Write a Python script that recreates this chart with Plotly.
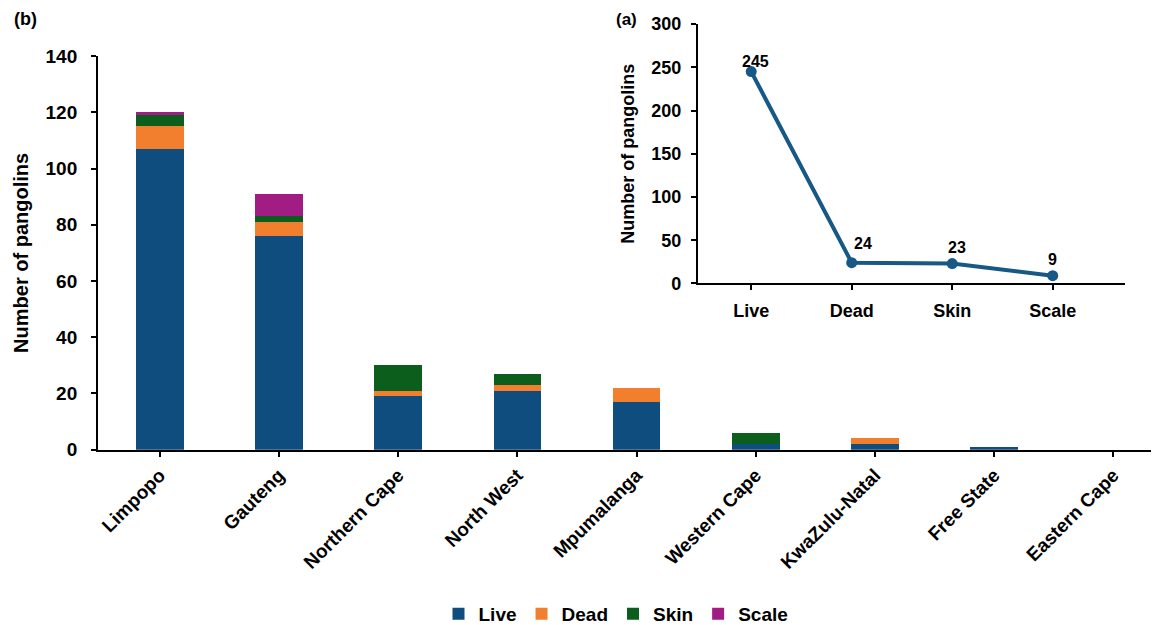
import plotly.graph_objects as go

provinces = ["Limpopo", "Gauteng", "Northern Cape", "North West", "Mpumalanga",
             "Western Cape", "KwaZulu-Natal", "Free State", "Eastern Cape"]
live = [107, 76, 19, 21, 17, 2, 2, 1, 0]
dead = [8, 5, 2, 2, 5, 0, 2, 0, 0]
skin = [4, 2, 9, 4, 0, 4, 0, 0, 0]
scale = [1, 8, 0, 0, 0, 0, 0, 0, 0]

types = ["Live", "Dead", "Skin", "Scale"]
totals = [245, 24, 23, 9]

y_ticks = [0, 20, 40, 60, 80, 100, 120, 140]
inset_ticks = [0, 50, 100, 150, 200, 250, 300]

colors = {"Live": "#0E4D7E", "Dead": "#F27F2E", "Skin": "#0B5E1C", "Scale": "#A11C83"}
FONT = "Liberation Sans"

def bfont(size):
    return dict(size=size, family=FONT, color="black", weight="bold")

fig = go.Figure()
for name, vals in zip(types, [live, dead, skin, scale]):
    fig.add_trace(go.Bar(x=provinces, y=vals, name=name, marker_color=colors[name],
                         marker_line_width=0, xaxis="x", yaxis="y"))

fig.add_trace(go.Scatter(x=types, y=totals, mode="lines+markers", showlegend=False,
                         line=dict(color="#165886", width=4),
                         marker=dict(size=11, color="#165886"),
                         xaxis="x2", yaxis="y2"))

shifts = [(4, 10), (11, 19), (5, 16), (0, 16)]
for t, v, (dx, dy) in zip(types, totals, shifts):
    fig.add_annotation(x=t, y=v, xref="x2", yref="y2", text=str(v), showarrow=False,
                       xshift=dx, yshift=dy, font=bfont(16))

axis_common = dict(showgrid=False, zeroline=False, showline=True, linecolor="black",
                   linewidth=2, ticks="outside", tickcolor="black", tickwidth=2, ticklen=5,
                   automargin=False)

fig.update_layout(
    template="none",
    width=1159, height=625,
    margin=dict(l=0, r=0, t=0, b=0, pad=0),
    paper_bgcolor="white", plot_bgcolor="rgba(0,0,0,0)",
    barmode="stack", bargap=0.6,
    font=dict(family=FONT, color="black"),
    xaxis=dict(domain=[0.0777, 1.0], range=[-0.518, 8.45], tickangle=-45,
               tickfont=bfont(19), **axis_common),
    yaxis=dict(domain=[0.2841, 0.9221], range=[0, 140], tickvals=y_ticks,
               tickfont=bfont(19), ticklabelstandoff=10,
               title=dict(text="Number of pangolins", font=bfont(20), standoff=12),
               **axis_common),
    xaxis2=dict(domain=[0.5953, 0.9638], range=[-0.53, 3.72], anchor="y2",
                tickfont=bfont(18), ticklabelstandoff=5, **axis_common),
    yaxis2=dict(domain=[0.5536, 0.974], range=[0, 300], tickvals=inset_ticks, anchor="x2",
                tickfont=bfont(18), ticklabelstandoff=6,
                title=dict(text="Number of pangolins", font=bfont(18), standoff=12),
                **axis_common),
    legend=dict(orientation="h", x=0.5246, y=0.018, xanchor="center", yanchor="middle",
                font=bfont(19), itemwidth=30, traceorder="normal"),
)

fig.add_annotation(x=0.0155, y=0.982, xref="paper", yref="paper", text="(b)",
                   showarrow=False, xanchor="center", yanchor="middle", font=bfont(18))
fig.add_annotation(x=0.534, y=0.982, xref="paper", yref="paper", text="(a)",
                   showarrow=False, xanchor="center", yanchor="middle", font=bfont(17))

fig.write_html("out.html")
